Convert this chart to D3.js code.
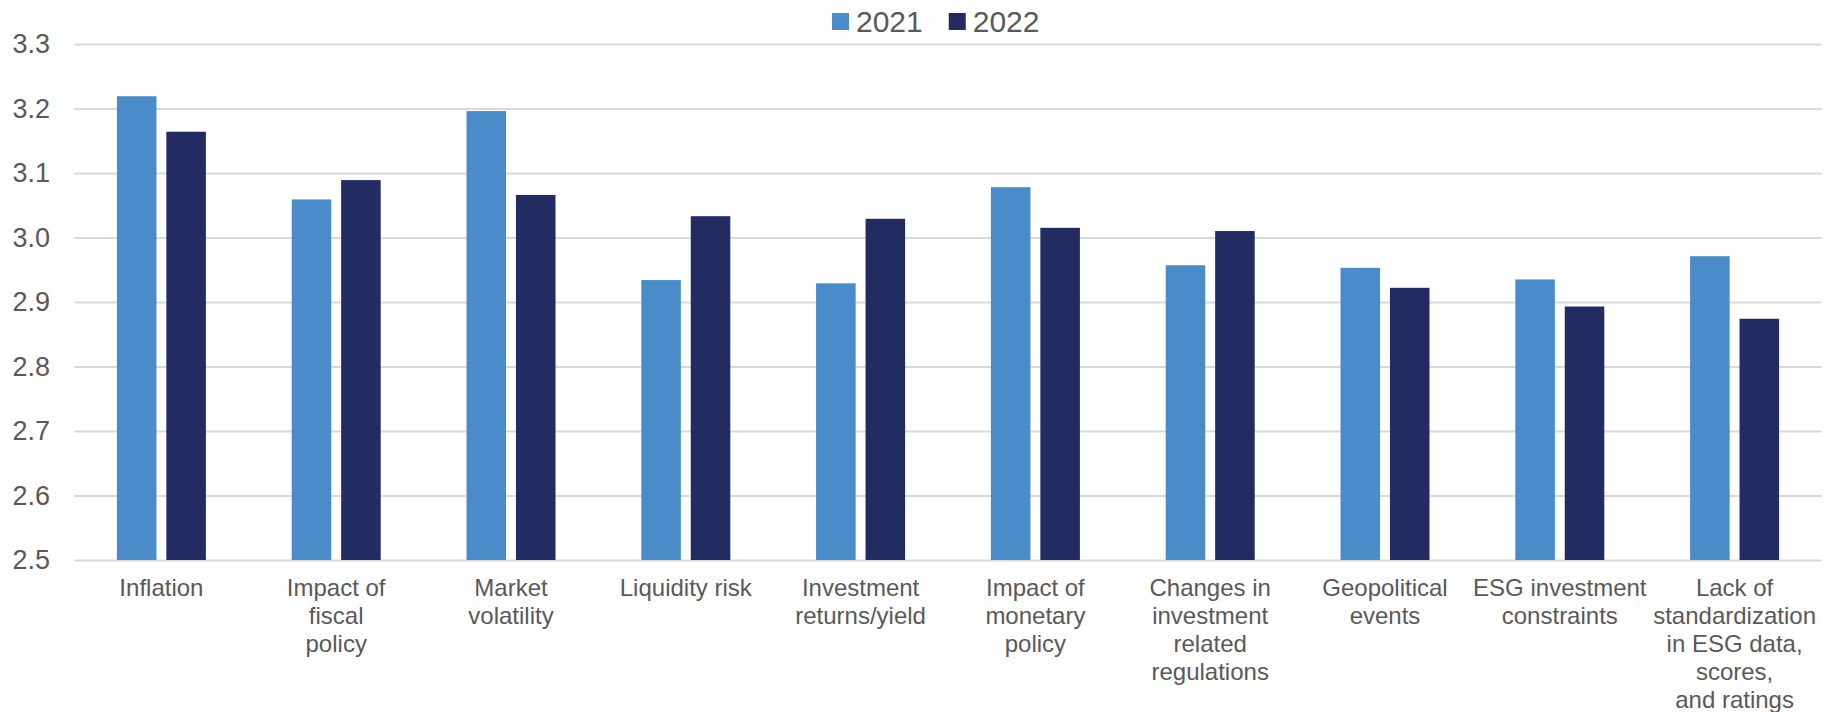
<!DOCTYPE html>
<html>
<head>
<meta charset="utf-8">
<script src="https://cdn.jsdelivr.net/npm/d3@7"></script>
<style>
  body { margin: 0; background: #fff; }
  text { font-family: "Liberation Sans", Arial, sans-serif; fill: #595959; }
</style>
</head>
<body>
<script>
var width = 1828,
    height = 712,
    margin = {top: 44, right: 6, bottom: 152, left: 74};

// data
var categories = [
  "Inflation", "Impact of fiscal policy", "Market volatility", "Liquidity risk",
  "Investment returns/yield", "Impact of monetary policy",
  "Changes in investment related regulations", "Geopolitical events",
  "ESG investment constraints",
  "Lack of standardization in ESG data, scores, and ratings"
];
// how each category label wraps in the picture
var labelLines = [
  ["Inflation"],
  ["Impact of", "fiscal", "policy"],
  ["Market", "volatility"],
  ["Liquidity risk"],
  ["Investment", "returns/yield"],
  ["Impact of", "monetary", "policy"],
  ["Changes in", "investment", "related", "regulations"],
  ["Geopolitical", "events"],
  ["ESG investment", "constraints"],
  ["Lack of", "standardization", "in ESG data,", "scores,", "and ratings"]
];
var series = ["2021", "2022"];
var values2021 = [3.219, 3.059, 3.196, 2.934, 2.929, 3.078, 2.957, 2.953, 2.935, 2.971];
var values2022 = [3.164, 3.089, 3.066, 3.033, 3.029, 3.015, 3.010, 2.922, 2.893, 2.874];
var yTicks = [2.5, 2.6, 2.7, 2.8, 2.9, 3.0, 3.1, 3.2, 3.3];

var colors = {"2021": "#4a8bc9", "2022": "#232b63"};

var rows = categories.map(function(c, i) {
  return {cat: c, lines: labelLines[i], vals: [
    {key: "2021", v: values2021[i]},
    {key: "2022", v: values2022[i]}
  ]};
});

var svg = d3.select("body").append("svg")
    .attr("width", width)
    .attr("height", height);

var x0 = d3.scaleBand()
    .domain(categories)
    .range([margin.left, width - margin.right])
    .padding(0);

var group = 89;
var x1 = d3.scaleBand()
    .domain(series)
    .range([x0.bandwidth() / 2 - group / 2, x0.bandwidth() / 2 + group / 2])
    .paddingInner(0.2);

var y = d3.scaleLinear()
    .domain([2.5, 3.3])
    .range([height - margin.bottom, margin.top]);

// gridlines + y labels
var yAxis = svg.append("g")
    .attr("transform", "translate(" + margin.left + ",0)")
    .call(d3.axisLeft(y)
      .tickValues(yTicks)
      .tickFormat(d3.format(".1f"))
      .tickSize(-(width - margin.left - margin.right))
      .tickPadding(24));

yAxis.select(".domain").remove();
yAxis.selectAll(".tick line")
    .attr("stroke", "#d9d9d9")
    .attr("stroke-width", 2);
yAxis.selectAll(".tick text")
    .style("font-size", "27px")
    .attr("fill", "#595959");

// bars
var groups = svg.append("g").selectAll("g")
    .data(rows)
    .enter().append("g")
    .attr("transform", function(d) { return "translate(" + x0(d.cat) + ",0)"; });

groups.selectAll("rect")
    .data(function(d) { return d.vals; })
    .enter().append("rect")
    .attr("x", function(d) { return x1(d.key); })
    .attr("width", x1.bandwidth())
    .attr("y", function(d) { return y(d.v); })
    .attr("height", function(d) { return y(2.5) - y(d.v); })
    .attr("fill", function(d) { return colors[d.key]; });

// category labels
var labels = svg.append("g").selectAll("text")
    .data(rows)
    .enter().append("text")
    .attr("x", function(d) { return x0(d.cat) + x0.bandwidth() / 2; })
    .attr("y", y(2.5) + 36)
    .attr("text-anchor", "middle")
    .style("font-size", "24px");

labels.selectAll("tspan")
    .data(function(d) { return d.lines; })
    .enter().append("tspan")
    .attr("x", function() { return this.parentNode.getAttribute("x"); })
    .attr("dy", function(d, i) { return i ? 28 : 0; })
    .text(function(d) { return d; });

// legend
var legend = svg.append("g");
var lx = 832;
series.forEach(function(s) {
  legend.append("rect")
      .attr("x", lx)
      .attr("y", 13)
      .attr("width", 17)
      .attr("height", 17)
      .attr("fill", colors[s]);
  var t = legend.append("text")
      .attr("x", lx + 24)
      .attr("y", 32)
      .style("font-size", "30px")
      .text(s);
  lx += 24 + t.node().getComputedTextLength() + 26;
});
</script>
</body>
</html>
